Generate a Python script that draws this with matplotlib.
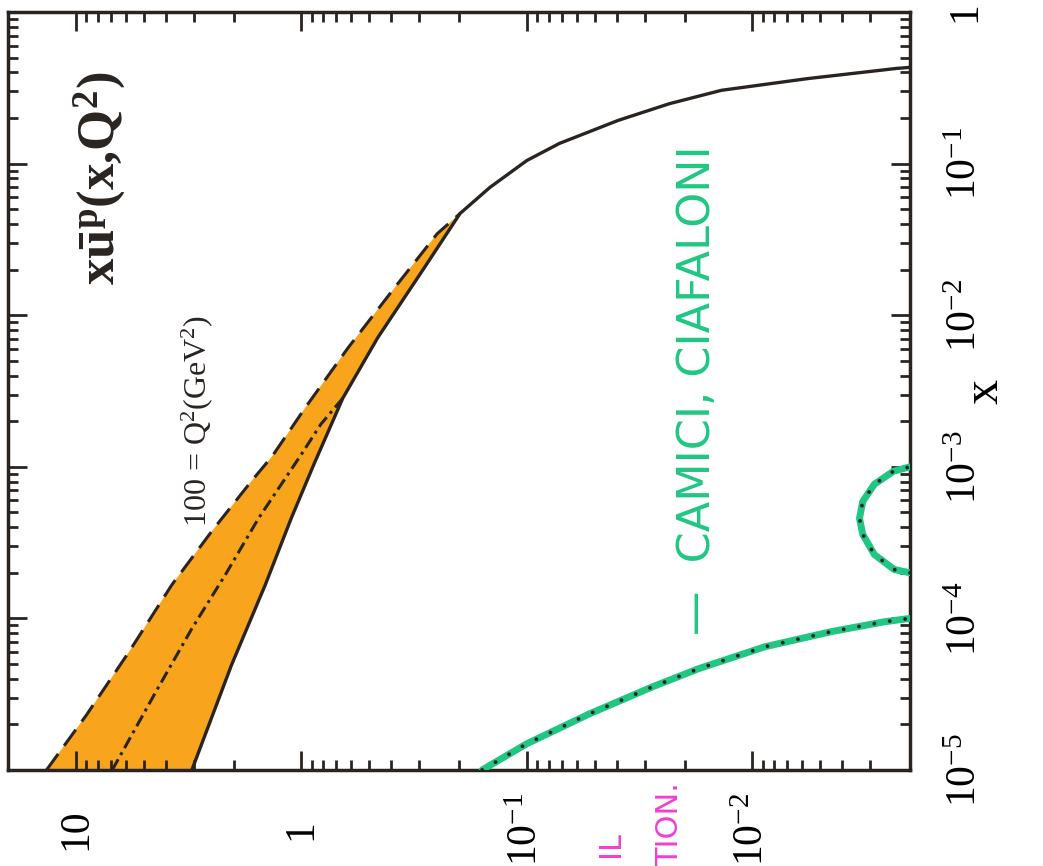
import numpy as np
import matplotlib
matplotlib.use("Agg")
import matplotlib.pyplot as plt
from matplotlib.ticker import LogLocator, NullFormatter

# --- data (x on the vertical axis, xu(x,Q^2) on the horizontal) ---

# lower edge of the band (solid), continues alone up to large x
solid_x = [1e-5, 4.94e-5, 1.67e-4, 4.57e-4, 1.04e-3, 2.84e-3, 7.1e-3, 2.06e-2,
           4.69e-2, 6.97e-2, 0.105, 0.136, 0.193, 0.249, 0.305, 0.364,
           0.425, 0.447]
solid_f = [3.06, 2.04, 1.445, 1.11, 0.88, 0.655, 0.459, 0.285,
           0.198, 0.146, 0.100, 0.0718, 0.0394, 0.0233, 0.0137, 0.00571,
           0.0023, 0.0015]

# upper edge of the band (dashed), joins the solid curve near x = 0.047
dashed_x = [1e-5, 2.31e-5, 6.03e-5, 1.67e-4, 3.75e-4, 8.04e-4, 1.17e-3, 2.44e-3,
            6.08e-3, 1.52e-2, 3.45e-2, 4.69e-2]
dashed_f = [13.5, 8.97, 5.81, 3.75, 2.50, 1.667, 1.35, 0.964,
            0.622, 0.386, 0.25, 0.198]

# central curve (dash-dot), joins the solid curve near x = 0.003
dashdot_x = [1e-5, 3.28e-5, 8.57e-5, 1.95e-4, 4.57e-4, 1.21e-3, 1.91e-3, 2.84e-3]
dashdot_f = [6.9, 4.42, 3.06, 2.17, 1.55, 1.0, 0.82, 0.655]

# hand-drawn green curves (Camici, Ciafaloni)
green_x = [1e-5, 1.49e-5, 2.34e-5, 3.54e-5, 4.66e-5, 6.5e-5, 8.18e-5, 9.5e-5, 1.0e-4]
green_f = [0.158, 0.100, 0.053, 0.0277, 0.0173, 0.0088, 0.00446, 0.0026, 0.0020]

arc_x = [2.0e-4, 2.1e-4, 2.64e-4, 3.58e-4, 4.57e-4, 5.92e-4, 7.67e-4, 9.35e-4, 1.0e-3]
arc_f = [0.0020, 0.00235, 0.00288, 0.00324, 0.00335, 0.00324, 0.00288, 0.00237, 0.0020]

f_ticks = [10, 1, 0.1, 0.01]
f_tick_labels = ["10", "1", r"$10^{-1}$", r"$10^{-2}$"]
x_ticks = [1e-5, 1e-4, 1e-3, 1e-2, 1e-1, 1]
x_tick_labels = [r"$10^{-5}$", r"$10^{-4}$", r"$10^{-3}$", r"$10^{-2}$", r"$10^{-1}$", "1"]

INK = "#2a2421"
ORANGE = "#f8a51d"
GREEN = "#1fc782"
MAGENTA = "#f23fd2"

plt.rcParams.update({
    "font.family": ["Liberation Serif", "DejaVu Serif"],
    "mathtext.fontset": "custom",
    "mathtext.rm": "Liberation Serif",
    "mathtext.it": "Liberation Serif:italic",
    "mathtext.bf": "Liberation Serif:bold",
    "text.color": INK,
})

fig = plt.figure(figsize=(10.43, 8.66), dpi=100)
ax = fig.add_axes([0.0077, 0.1109, 0.8648, 0.8751])

ax.set_xscale("log")
ax.set_yscale("log")
ax.set_xlim(20, 2e-3)
ax.set_ylim(1e-5, 1)

# orange band between the solid and the dashed curve
band_f = solid_f[:9] + dashed_f[::-1]
band_x = solid_x[:9] + dashed_x[::-1]
ax.fill(band_f, band_x, color=ORANGE, lw=0, zorder=1)

ax.plot(dashed_f, dashed_x, color=INK, lw=2.2, ls=(0, (6.5, 3.3)), zorder=3)
ax.plot(dashdot_f, dashdot_x, color=INK, lw=2.2, ls=(0, (4, 1.6, 1, 1.6)), zorder=3)
ax.plot(solid_f, solid_x, color=INK, lw=2.4, zorder=4)

# green curves with black dots on top
for fx, xx in [(green_f, green_x), (arc_f, arc_x)]:
    ax.plot(fx, xx, color=GREEN, lw=5, solid_capstyle="round", zorder=5)
    ax.plot(fx, xx, color=INK, lw=2.8, ls=(0, (0.01, 4)),
            dash_capstyle="round", zorder=6)

# ticks
ax.set_xticks(f_ticks, f_tick_labels)
ax.set_yticks(x_ticks, x_tick_labels)
for axis in (ax.xaxis, ax.yaxis):
    axis.set_minor_locator(LogLocator(base=10, subs=np.arange(2, 10) * 1.0, numticks=30))
    axis.set_minor_formatter(NullFormatter())

ax.tick_params(which="both", direction="in", top=True, bottom=True,
               left=True, right=True, labelleft=False, labelright=True,
               width=2.0, color=INK)
ax.tick_params(which="major", length=14)
ax.tick_params(which="minor", length=7)
ax.tick_params(axis="x", which="major", pad=43, labelsize=30, labelrotation=90)
ax.tick_params(axis="y", which="major", pad=40, labelsize=30, labelrotation=90)
for lbl in ax.get_xticklabels():
    lbl.set_va("center")
    lbl.set_ha("center")
for lbl in ax.get_yticklabels():
    lbl.set_va("center")
    lbl.set_ha("center")

for sp in ax.spines.values():
    sp.set_linewidth(2.5)
    sp.set_color(INK)

ax.yaxis.set_label_position("right")
ax.set_ylabel("x", fontsize=36, rotation=90, va="center", ha="center")
ax.yaxis.set_label_coords(1.083, 0.5)

# annotations
ax.text(0.102, 0.781, r"$\mathbf{x\bar{u}^{p}(x{,}Q^{2})}$", transform=ax.transAxes,
        rotation=90, fontsize=38, ha="center", va="center")
ax.text(0.2095, 0.4604, r"100 = Q$^2$(GeV$^2$)", transform=ax.transAxes,
        rotation=90, fontsize=23, ha="center", va="center")
ax.text(0.764, 0.501, "\u2014  CAMICI, CIAFALONI", transform=ax.transAxes,
        rotation=90, fontsize=32, ha="center", va="center",
        color=GREEN, family="DejaVu Sans")

fig.text(0.585, 0.040, "IL", rotation=90, fontsize=22, ha="center", va="top",
         color=MAGENTA, family="DejaVu Sans")
fig.text(0.642, 0.097, "TION.", rotation=90, fontsize=22, ha="center", va="top",
         color=MAGENTA, family="DejaVu Sans")

fig.savefig("out.png", dpi=100, facecolor="white")
